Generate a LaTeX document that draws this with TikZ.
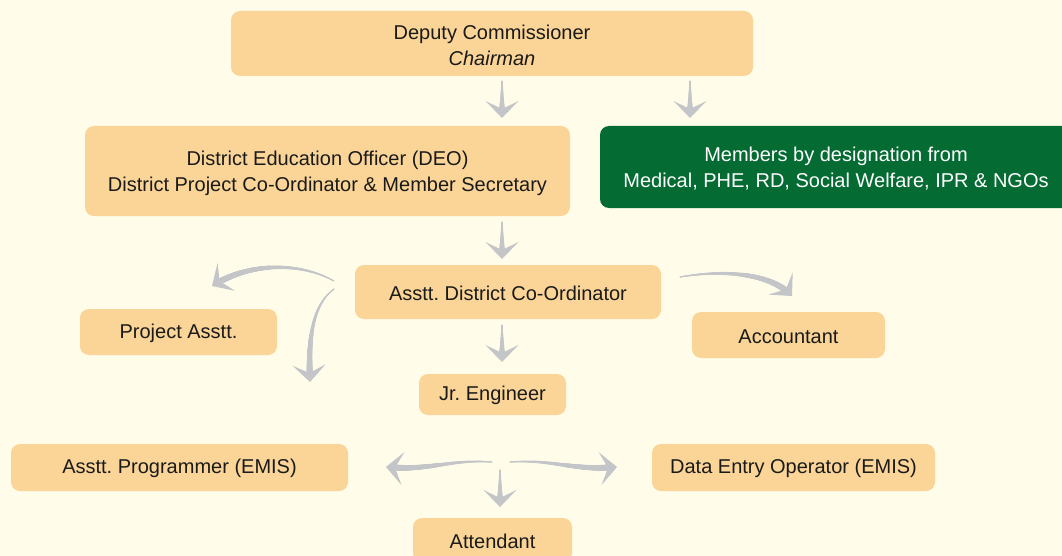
\documentclass[tikz,border=0pt]{standalone}
\usepackage{fontspec}
\setmainfont{Liberation Sans}
\frenchspacing
\usetikzlibrary{arrows.meta,decorations.markings}
\definecolor{bgc}{HTML}{FFFDE9}
\definecolor{boxc}{HTML}{FAD597}
\definecolor{greenc}{HTML}{046B32}
\definecolor{agray}{HTML}{C3C5C8}
\definecolor{txt}{HTML}{1A1A1A}
\newcommand{\tallline}{\rule{0pt}{18.5pt}}
\newcommand{\oneline}{\rule{0pt}{16.5pt}}
\begin{document}
\begin{tikzpicture}[x=1pt,y=-1pt,
  box/.style={fill=boxc, rounded corners=9pt, inner sep=0pt, align=center, text=txt,
    font=\fontsize{20}{26}\selectfont},
  gbox/.style={box, fill=greenc, text=white},
  taper/.style={draw=agray, line width=1.1pt,
    -{Stealth[length=17pt,width=33pt,inset=8pt]},
    postaction={decorate, decoration={markings,
      mark=between positions 0pt and -6pt step 0.5pt with {%
        \pgfmathsetmacro\rr{0.55+2.75*\pgfkeysvalueof{/pgf/decoration/mark info/distance from start}/\pgfdecoratedpathlength}%
        \fill[agray] (0,0) circle[radius=\rr pt];}}}},
  ]
\useasboundingbox (0,0) rectangle (1062,556);
\fill[bgc] (0,0) rectangle (1062,556);

\node[box, minimum width=522pt, minimum height=65pt] (dc) at (492,43.5)
  {\tallline Deputy Commissioner\\\textit{Chairman}};
\node[box, minimum width=485pt, minimum height=90pt] (deo) at (327.5,171)
  {\tallline District Education Officer (DEO)\\District Project Co-Ordinator \& Member Secretary};
\node[gbox, minimum width=472pt, minimum height=82pt] (mem) at (836,167)
  {\tallline Members by designation from\\Medical, PHE, RD, Social Welfare, IPR \& NGOs};
\node[box, minimum width=306pt, minimum height=54pt] (adco) at (508,292)
  {\oneline Asstt. District Co-Ordinator};
\node[box, minimum width=197pt, minimum height=46pt] (pa) at (178.5,332)
  {\oneline Project Asstt.};
\node[box, minimum width=193pt, minimum height=46pt] (acc) at (788.5,335)
  {\oneline Accountant};
\node[box, minimum width=147pt, minimum height=41pt] (je) at (492.5,394.5)
  {\oneline Jr. Engineer};
\node[box, minimum width=337pt, minimum height=47pt] (ap) at (179.5,467.5)
  {\oneline Asstt. Programmer (EMIS)};
\node[box, minimum width=283pt, minimum height=47pt] (deop) at (793.5,467.5)
  {\oneline Data Entry Operator (EMIS)};
\node[box, minimum width=159pt, minimum height=44pt] (att) at (492.5,540)
  {\oneline Attendant};

% free ends of the connectors
\coordinate (s1) at (502,81);  \coordinate (e1) at (502,118);
\coordinate (s2) at (690,81);  \coordinate (e2) at (690,118);
\coordinate (s3) at (502,222); \coordinate (e3) at (502,259);
\coordinate (s4) at (334,281); \coordinate (e4) at (212,286);
\coordinate (s5) at (334,289); \coordinate (e5) at (310,382);
\coordinate (s6) at (680,277); \coordinate (e6) at (792,296);
\coordinate (s7) at (502,325); \coordinate (e7) at (502,362);
\coordinate (s8) at (492,462); \coordinate (e8) at (386,467);
\coordinate (s9) at (510,462); \coordinate (e9) at (617,467);
\coordinate (s10) at (500,470); \coordinate (e10) at (500,507);

\foreach \i in {1,2,3,7,10}{
  \draw[taper] (s\i) -- (e\i);
}
\draw[taper] (s4) .. controls (300,262) and (250,262) .. (e4);
\draw[taper] (s5) .. controls (312,305) and (308,340) .. (e5);
\draw[taper] (s6) .. controls (720,270) and (770,272) .. (e6);
\draw[taper] (s8) .. controls (450,459) and (430,471) .. (e8);
\draw[taper] (s9) .. controls (553,459) and (573,471) .. (e9);
\end{tikzpicture}
\end{document}
